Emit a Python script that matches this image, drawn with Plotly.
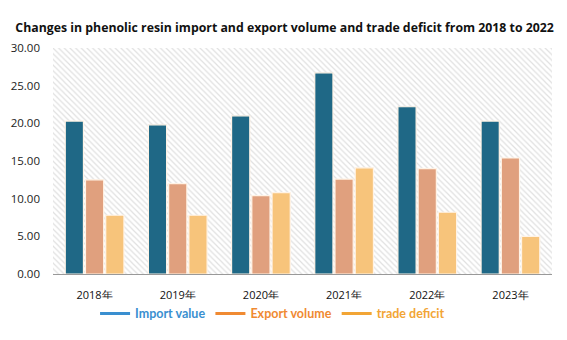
import plotly.graph_objects as go

years = ["2018年", "2019年", "2020年", "2021年", "2022年", "2023年"]
import_value = [20.3, 19.8, 21.0, 26.7, 22.2, 20.3]
export_volume = [12.5, 12.0, 10.4, 12.6, 14.0, 15.4]
trade_deficit = [7.8, 7.8, 10.8, 14.1, 8.2, 5.0]
series_names = ["Import value", "Export volume", "trade deficit"]
bar_colors = ["#1F6886", "#E0A07E", "#F7C47B"]
legend_colors = ["#3A8FD0", "#F08A32", "#F2A535"]
y_ticks = [0, 5, 10, 15, 20, 25, 30]

fig = go.Figure()

# hatched background (drawn on the base x axis, underneath the data axis)
fig.add_trace(go.Bar(
    x=[0.5], y=[30], width=[1], xaxis="x", showlegend=False, hoverinfo="skip",
    marker=dict(color="white", line=dict(width=0),
                pattern=dict(shape="\\", fgcolor="#C2C2C2", bgcolor="white", size=4, solidity=0.3)),
))

for name, vals, col in zip(series_names, [import_value, export_volume, trade_deficit], bar_colors):
    fig.add_trace(go.Bar(
        x=years, y=vals, name=name, showlegend=False, xaxis="x2",
        marker=dict(color=col, line=dict(color="#FFF3E6", width=1.2)),
    ))

for name, col in zip(series_names, legend_colors):
    fig.add_trace(go.Scatter(
        x=[None], y=[None], mode="lines", xaxis="x2",
        name=f"<b><span style='color:{col}'>{name}</span></b>",
        line=dict(color=col, width=3),
    ))

fig.update_layout(
    width=567, height=340,
    margin=dict(l=53, r=15, t=48, b=66, autoexpand=False),
    paper_bgcolor="white", plot_bgcolor="white",
    barmode="group", bargap=0.27, bargroupgap=0.1,
    title=dict(text="<b>Changes in phenolic resin import and export volume and trade deficit from 2018 to 2022</b>",
               x=0.027, xanchor="left", y=0.918, yanchor="middle",
               font=dict(family="Open Sans", size=12.3, color="#111111")),
    font=dict(family="Open Sans", size=11, color="#222222"),
    xaxis=dict(range=[0, 1], visible=False, showgrid=False, zeroline=False),
    xaxis2=dict(overlaying="x", side="bottom", anchor="y", showgrid=False, showline=True,
                linecolor="#999999", linewidth=1, ticks="", ticklabelstandoff=11,
                tickfont=dict(size=11, color="#111111")),
    yaxis=dict(range=[0, 30], tickvals=y_ticks, ticktext=[f"{v:.2f}" for v in y_ticks],
               showgrid=False, zeroline=False, ticks="", ticklabelstandoff=12,
               tickfont=dict(size=11.5, color="#222222")),
    legend=dict(orientation="h", x=0.44, xanchor="center", y=-0.11, yanchor="top",
                font=dict(family="Lato", size=12.5), itemwidth=30, traceorder="normal"),
)

fig.write_html("out.html")
